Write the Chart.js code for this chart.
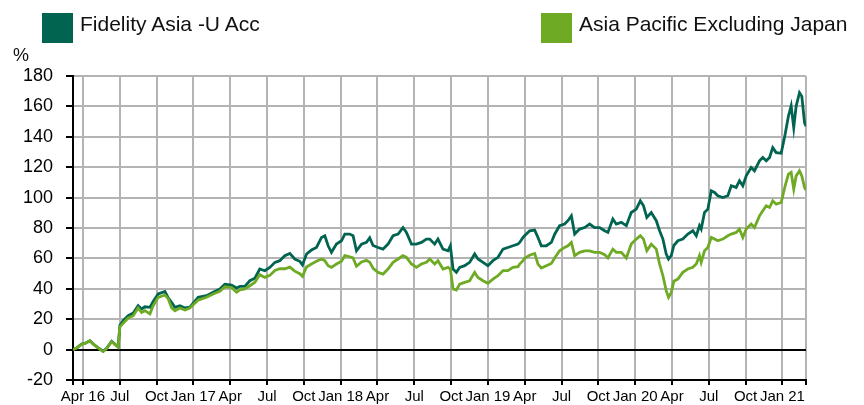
<!DOCTYPE html>
<html>
<head>
<meta charset="utf-8">
<script src="https://cdn.jsdelivr.net/npm/chart.js@4.4.1/dist/chart.umd.min.js"></script>
<style>
  body { margin: 0; background: #fff; font-family: "Liberation Sans", Arial, sans-serif; }
  #wrap { position: relative; width: 864px; height: 405px; }
  .key { position: absolute; top: 13px; width: 31px; height: 30px; }
  .lbl { position: absolute; top: 13px; font-size: 21px; line-height: 21px; color: #111; white-space: nowrap; }
  #unit { position: absolute; left: 13px; top: 46px; font-size: 18px; line-height: 18px; color: #111; }
</style>
</head>
<body>
<div id="wrap">
  <canvas id="perfChart" width="864" height="405"></canvas>
  <div class="key" style="left:42px;background:#006450"></div>
  <div class="lbl" style="left:80px">Fidelity Asia -U Acc</div>
  <div class="key" style="left:541px;background:#6eaa24"></div>
  <div class="lbl" style="left:579px">Asia Pacific Excluding Japan</div>
  <div id="unit">%</div>
</div>
<script>
// x values: months since Jan 2016
const months = [2.19, 2.49, 2.89, 3.16, 3.57, 3.84, 4.25, 4.65, 4.93, 5.34,
  5.69, 5.87, 6.01, 6.28, 6.69, 7.10, 7.50, 7.78, 8.05, 8.46,
  8.72, 9.13, 9.68, 9.95, 10.22, 10.49, 10.90, 11.31, 11.71, 12.39,
  13.07, 13.61, 14.16, 14.56, 15.11, 15.52, 15.79, 16.19, 16.60, 17.01,
  17.41, 17.82, 18.23, 18.64, 19.04, 19.45, 19.86, 20.26, 20.67, 20.89,
  21.22, 21.62, 22.03, 22.44, 22.71, 22.98, 23.25, 23.66, 24.07, 24.34,
  24.74, 25.01, 25.29, 25.70, 26.10, 26.37, 26.64, 27.05, 27.45, 27.86,
  28.27, 28.68, 29.08, 29.36, 29.77, 30.17, 30.58, 30.99, 31.26, 31.66,
  31.93, 32.34, 32.75, 32.94, 33.16, 33.43, 33.70, 34.11, 34.51, 34.92,
  35.19, 35.60, 36.00, 36.41, 36.82, 37.23, 37.63, 38.04, 38.45, 38.59,
  38.86, 38.99, 39.40, 39.81, 40.08, 40.35, 40.76, 41.17, 41.44, 41.84,
  42.25, 42.52, 42.80, 43.07, 43.47, 43.88, 44.29, 44.69, 45.10, 45.51,
  45.78, 46.18, 46.46, 46.87, 47.28, 47.68, 48.09, 48.42, 48.68, 48.95,
  49.31, 49.72, 49.99, 50.26, 50.53, 50.72, 50.94, 51.15, 51.48, 51.88,
  52.29, 52.70, 52.98, 53.24, 53.38, 53.65, 53.92, 54.20, 54.47, 54.73,
  55.14, 55.55, 55.83, 56.23, 56.50, 56.77, 57.05, 57.45, 57.72, 58.13,
  58.40, 58.68, 58.95, 59.21, 59.49, 59.90, 60.22, 60.49, 60.71, 60.92,
  61.12, 61.39, 61.58, 61.80, 61.92];

// cumulative performance, %
const fund = [0, 1.1, 3.7, 4.1, 5.9, 3.7, 1.1, -1.1, 0.9, 5.5,
  3.0, 1.8, 15.8, 19.0, 22.3, 24.0, 28.9, 26.7, 28.2, 27.8,
  31.7, 36.6, 38.3, 34.0, 31.1, 27.8, 28.9, 27.4, 28.0, 34.4,
  35.5, 37.7, 39.9, 43.0, 42.4, 40.5, 41.6, 41.6, 45.3, 47.0,
  53.0, 51.9, 54.1, 57.4, 58.5, 61.8, 63.3, 59.6, 58.1, 55.8,
  62.9, 65.5, 67.2, 73.8, 74.9, 68.3, 64.0, 69.4, 71.6, 76.0,
  76.0, 74.9, 65.0, 69.4, 70.5, 73.5, 68.5, 67.2, 66.1, 69.4,
  74.9, 76.0, 80.3, 77.1, 69.4, 69.4, 70.5, 72.7, 72.7, 69.4,
  72.7, 66.1, 65.0, 68.3, 53.0, 50.8, 54.1, 55.2, 57.4, 62.9,
  59.6, 57.4, 55.2, 58.5, 60.7, 66.1, 67.2, 68.3, 69.4, 70.5,
  73.8, 74.9, 78.2, 78.6, 73.8, 68.3, 68.3, 70.5, 75.9, 81.5,
  82.6, 84.8, 88.0, 76.0, 79.3, 80.3, 82.6, 80.3, 80.3, 78.2,
  77.1, 85.9, 82.6, 83.7, 81.5, 90.2, 92.4, 97.9, 94.6, 86.9,
  90.2, 84.8, 78.2, 72.7, 62.9, 59.6, 61.8, 68.5, 71.6, 72.7,
  76.0, 78.2, 74.9, 81.5, 79.3, 90.2, 92.4, 104.5, 103.4, 101.2,
  100.0, 101.2, 107.8, 106.7, 111.1, 107.8, 114.3, 119.8, 117.6, 124.2,
  126.4, 124.2, 126.4, 132.9, 129.6, 129.2, 141.7, 153.7, 160.3, 146.0,
  160.3, 169.0, 166.6, 149.3, 147.0];

const index = [0, 1.0, 3.5, 4.0, 5.7, 3.6, 1.0, -1.3, 0.7, 5.2,
  2.8, 1.6, 15.0, 17.3, 20.8, 22.3, 27.4, 24.5, 25.6, 23.5,
  28.9, 34.4, 35.9, 33.5, 27.6, 25.6, 27.4, 26.0, 27.4, 32.6,
  34.4, 36.6, 38.4, 41.4, 40.8, 37.7, 39.3, 39.9, 42.0, 44.3,
  49.3, 47.5, 48.8, 52.1, 53.2, 53.2, 54.3, 51.6, 49.9, 48.2,
  54.3, 56.3, 58.1, 59.6, 58.5, 55.2, 54.1, 56.3, 58.1, 61.8,
  61.1, 60.3, 54.8, 57.6, 58.7, 57.5, 53.5, 50.8, 49.7, 53.0,
  57.4, 59.6, 61.8, 60.7, 56.3, 54.1, 56.3, 57.4, 59.6, 56.3,
  58.5, 53.0, 54.1, 53.0, 39.9, 39.2, 43.1, 44.2, 45.3, 50.8,
  47.5, 45.3, 43.6, 46.4, 48.6, 51.9, 51.9, 54.1, 54.5, 56.3,
  58.5, 60.0, 62.1, 63.2, 56.3, 53.6, 55.2, 56.7, 60.3, 65.0,
  67.2, 68.3, 70.5, 61.8, 64.0, 65.0, 65.0, 64.0, 64.0, 62.5,
  60.3, 66.1, 64.0, 64.0, 60.3, 69.4, 72.7, 74.9, 72.7, 65.0,
  69.4, 66.1, 56.3, 48.6, 38.8, 34.4, 37.5, 45.0, 46.4, 50.8,
  53.0, 54.1, 56.3, 61.8, 57.4, 65.0, 67.2, 73.8, 72.7, 71.6,
  72.7, 74.9, 76.0, 77.1, 79.3, 73.8, 79.3, 82.6, 80.3, 88.0,
  91.3, 94.6, 93.5, 97.9, 95.7, 96.8, 107.8, 115.5, 116.6, 105.6,
  114.3, 117.6, 114.3, 106.6, 105.0];

// quarter ticks on the time axis
const quarterTicks = [3, 6, 9, 12, 15, 18, 21, 24, 27, 30, 33, 36, 39, 42, 45, 48, 51, 54, 57, 60];
const quarterLabels = ["Apr 16", "Jul", "Oct", "Jan 17", "Apr", "Jul", "Oct", "Jan 18", "Apr", "Jul",
  "Oct", "Jan 19", "Apr", "Jul", "Oct", "Jan 20", "Apr", "Jul", "Oct", "Jan 21"];

const yTicks = { min: -20, max: 180, step: 20 };

const FUND_COLOR = "#006450";
const INDEX_COLOR = "#6eaa24";
const GRID_COLOR = "#b4b4b4";
const FONT = "'Liberation Sans', Arial, sans-serif";

const toPoints = vals => months.map((m, i) => ({ x: m, y: vals[i] }));

new Chart(document.getElementById("perfChart"), {
    type: "line",
    data: {
        datasets: [{
            label: "Fidelity Asia -U Acc",
            data: toPoints(fund),
            borderColor: FUND_COLOR,
            order: 1
        }, {
            label: "Asia Pacific Excluding Japan",
            data: toPoints(index),
            borderColor: INDEX_COLOR,
            order: 0
        }]
    },
    options: {
        responsive: false,
        animation: false,
        layout: { padding: { left: 0, top: 76, right: 58, bottom: 0 } },
        elements: {
            point: { radius: 0 },
            line: { borderWidth: 2.8, tension: 0, fill: false }
        },
        plugins: {
            legend: { display: false },
            tooltip: { enabled: false }
        },
        scales: {
            x: {
                type: "linear",
                min: months[0],
                max: months[months.length - 1],
                afterBuildTicks: scale => {
                    scale.ticks = [scale.min, ...quarterTicks, scale.max].map(v => ({ value: v }));
                },
                afterFit: scale => { scale.height = 25; },
                ticks: {
                    autoSkip: false,
                    maxRotation: 0,
                    padding: 3,
                    color: "#000",
                    font: { family: FONT, size: 15 },
                    callback: (value, i, ticks) => (i === 0 || i === ticks.length - 1) ? "" : quarterLabels[i - 1]
                },
                grid: {
                    color: ctx => ctx.index === 0 ? "rgba(0,0,0,0)" : GRID_COLOR,
                    lineWidth: 2,
                    tickColor: "#000",
                    tickLength: 5,
                    tickWidth: 2
                },
                border: { color: "#000", width: 2 }
            },
            y: {
                min: yTicks.min,
                max: yTicks.max,
                afterFit: scale => { scale.width = 73; },
                ticks: {
                    stepSize: yTicks.step,
                    padding: 13,
                    color: "#000",
                    font: { family: FONT, size: 18 }
                },
                grid: {
                    color: ctx => {
                        if (!ctx.tick) return GRID_COLOR;
                        if (ctx.tick.value === 0) return "#000";
                        if (ctx.tick.value === yTicks.min) return "rgba(0,0,0,0)";
                        return GRID_COLOR;
                    },
                    lineWidth: 2,
                    tickColor: "#000",
                    tickLength: 7,
                    tickWidth: 2
                },
                border: { color: "#000", width: 2 }
            }
        }
    }
});
</script>
</body>
</html>
